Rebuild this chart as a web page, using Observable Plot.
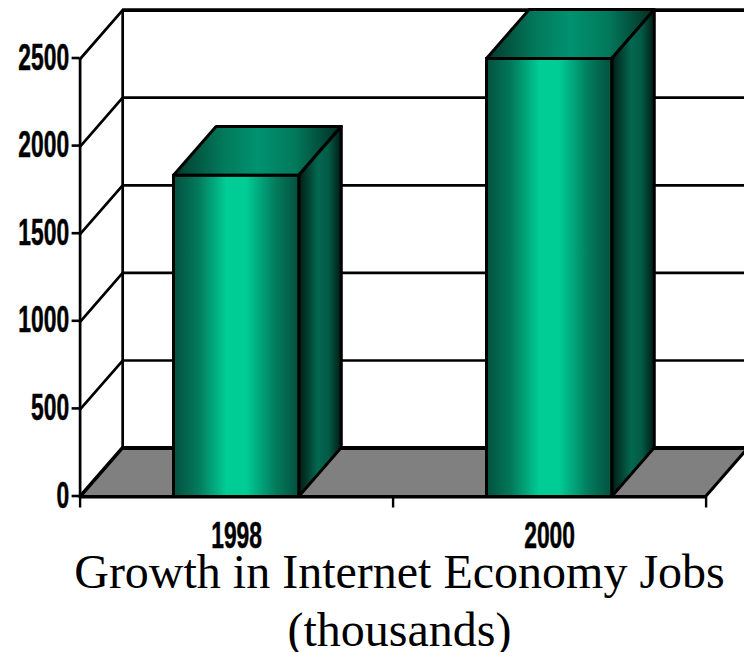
<!DOCTYPE html>
<html>
<head>
<meta charset="utf-8">
<script src="https://cdn.jsdelivr.net/npm/d3@7"></script>
<script src="https://cdn.jsdelivr.net/npm/@observablehq/plot@0.6"></script>
<style>
html,body{margin:0;padding:0;background:#fff;overflow:hidden}
#chart svg{display:block}
#title{font-family:"Liberation Serif","Times New Roman",serif;font-size:48px;line-height:58px;color:#000;
  text-align:center;white-space:nowrap;padding-left:55px;width:689px;margin-top:-17px}
</style>
</head>
<body>
<div id="chart"></div>
<div id="title">Growth in Internet Economy Jobs<br>(thousands)</div>
<script>
const categories = ["1998", "2000"];
const jobs = [1833, 2500];
const yTicks = [0, 500, 1000, 1500, 2000, 2500];
const xTicks = [0, 1, 2];
const depthX = 0.136;   // depth of the 3D box, in x units
const depthY = 279;     // depth of the 3D box, in y units
const barHalf = 0.2;

const bars = categories.map((c, i) => ({c, v: jobs[i], mid: i + 0.5, x1: i + 0.5 - barHalf, x2: i + 0.5 + barHalf}));
const edge = {stroke: "#000", strokeWidth: 3};

function gradient(id, stops) {
  return `<linearGradient id="${id}" x1="0" x2="1" y1="0" y2="0">` +
    stops.map(([o, c]) => `<stop offset="${o}" stop-color="${c}"/>`).join("") + `</linearGradient>`;
}
const defs = () => {
  const g = document.createElementNS("http://www.w3.org/2000/svg", "defs");
  g.innerHTML =
    gradient("front", [[0, "#04503e"], [0.2, "#027a5c"], [0.42, "#00cc96"], [0.58, "#00cc96"], [0.82, "#027a5c"], [1, "#04503e"]]) +
    gradient("top", [[0, "#023a2c"], [0.3, "#027a5c"], [0.5, "#009270"], [0.72, "#027a5c"], [1, "#012c22"]]) +
    gradient("side", [[0, "#011a14"], [0.45, "#036850"], [0.7, "#035a46"], [1, "#011a14"]]);
  return g;
};

const chart = Plot.plot({
  width: 744,
  height: 560,
  marginLeft: 79.6,
  marginRight: 38.4,
  marginTop: 58.5,
  marginBottom: 63.5,
  x: {domain: [0, 2], label: null},
  y: {domain: [0, 2500], label: null},
  style: {background: "#fff", overflow: "hidden"},
  marks: [
    defs,
    // floor
    Plot.areaX([{y: 0, a: 0, b: 2}, {y: depthY, a: depthX, b: 2 + depthX}], {
      y: "y", x1: "a", x2: "b", fill: "#808080", ...edge
    }),
    // back-wall gridlines
    Plot.ruleY(yTicks, {y: d => d + depthY, x1: depthX, x2: 2 + depthX, stroke: "#000", strokeWidth: d => d === 2500 ? 3.8 : 2.7}),
    Plot.ruleY([0], {y: depthY, x1: depthX, x2: 2 + depthX, stroke: "#000", strokeWidth: 3.8}),
    // side-wall gridlines
    ...yTicks.map(v => Plot.line([[0, v], [depthX, v + depthY]], {stroke: "#000", strokeWidth: 2.7})),
    Plot.ruleX([depthX], {y1: depthY, y2: 2500 + depthY, stroke: "#000", strokeWidth: 2.7}),
    Plot.ruleX([0], {y1: 0, y2: 2500, stroke: "#000", strokeWidth: 2.7}),
    // axes
    Plot.axisY({ticks: yTicks, tickSize: 8, tickPadding: 3, label: null, strokeWidth: 2.6,
      fontFamily: "Liberation Sans", fontWeight: "bold", fontSize: 36, dy: -1, tickFormat: d => String(d)}),
    Plot.axisX({ticks: xTicks, tickSize: 11, text: null, label: null, strokeWidth: 2.4}),
    Plot.ruleY([0], {x1: 0, x2: 2, stroke: "#000", strokeWidth: 3.2}),
    // boxes
    ...bars.map(b => Plot.areaX([{y: b.v, a: b.x1, c: b.x2}, {y: b.v + depthY, a: b.x1 + depthX, c: b.x2 + depthX}], {
      y: "y", x1: "a", x2: "c", fill: "url(#top)", ...edge
    })),
    ...bars.map(b => Plot.areaY([{x: b.x2, a: 0, c: b.v}, {x: b.x2 + depthX, a: depthY, c: b.v + depthY}], {
      x: "x", y1: "a", y2: "c", fill: "url(#side)", ...edge
    })),
    Plot.rect(bars, {x1: "x1", x2: "x2", y1: 0, y2: "v", fill: "url(#front)", ...edge}),
    // category labels
    Plot.text(bars, {x: "mid", y: 0, text: "c", dy: 39, fill: "#000",
      fontFamily: "Liberation Sans", fontWeight: "bold", fontSize: 36})
  ]
});

// condense the bold labels to match the narrow face of the original
d3.select(chart).selectAll("text").each(function () {
  const n = this.textContent.length;
  d3.select(this).attr("textLength", n * 12.7).attr("lengthAdjust", "spacingAndGlyphs")
    .attr("stroke", "#000").attr("stroke-width", 0.5);
});
document.getElementById("chart").appendChild(chart);
</script>
</body>
</html>
